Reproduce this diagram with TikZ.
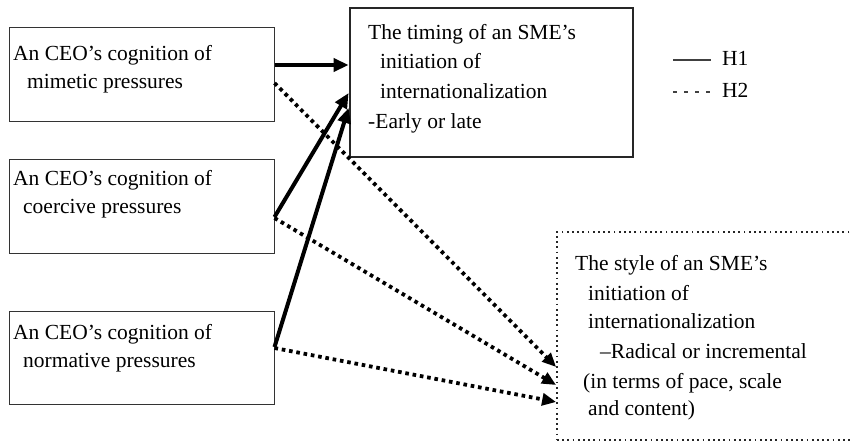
\documentclass[tikz,border=0pt]{standalone}
\usepackage{fontspec}
\setmainfont{Liberation Serif}
\usetikzlibrary{arrows.meta}
\begin{document}
\begin{tikzpicture}[x=1pt,y=-1pt,
  box/.style={draw=black!80, line width=1pt, inner sep=0pt, minimum width=265pt},
  txt/.style={font=\fontsize{21.5}{26}\selectfont, anchor=base west, inner sep=0pt, text=black},
  solidarr/.style={line width=4pt, -{Triangle[length=15pt,width=13pt]}},
  dotarr/.style={line width=3.8pt, dash pattern=on 3.6pt off 3.8pt, -{Triangle[length=14pt,width=12pt]}}
]
\useasboundingbox (0,0) rectangle (853,445);
\clip (0,0) rectangle (853,445);

% source boxes
\node[box, minimum height=94pt] (b1) at (141.5,74) {};
\node[box, minimum height=94pt] (b2) at (141.5,206) {};
\node[box, minimum height=93pt] (b3) at (141.5,357.5) {};

% timing box
\node[draw=black!85, line width=2.8pt, inner sep=0pt, minimum width=283pt, minimum height=149pt] (tb) at (491.5,82.5) {};

% style box (open beyond right edge)
\node[draw=black!85, line width=1.8pt, dash pattern=on 1.8pt off 3.4pt, inner sep=0pt, minimum width=323pt, minimum height=208pt] (sb) at (718.5,336) {};

% texts
\node[txt] (b1a) at (13,60) {An CEO’s cognition of};
\node[txt] (b1b) at (27,88) {mimetic pressures};
\node[txt] (b2a) at (13,185) {An CEO’s cognition of};
\node[txt] (b2b) at (23,213) {coercive pressures};
\node[txt] (b3a) at (13,339) {An CEO’s cognition of};
\node[txt] (b3b) at (23,367) {normative pressures};

\node[txt] (tba) at (368,39) {The timing of an SME’s};
\node[txt] (tbb) at (380,68) {initiation of};
\node[txt] (tbc) at (380,98) {internationalization};
\node[txt] (tbd) at (368,128) {-Early or late};

\node[txt] (sba) at (575,270) {The style of an SME’s};
\node[txt] (sbb) at (588,300) {initiation of};
\node[txt] (sbc) at (588,328) {internationalization};
\node[txt] (sbd) at (600,358) {–Radical or incremental};
\node[txt] (sbe) at (583,388) {(in terms of pace, scale};
\node[txt] (sbf) at (588,415) {and content)};

% legend
\coordinate (l1a) at (673,60);
\coordinate (l1b) at (711,60);
\coordinate (l2a) at (673,92);
\coordinate (l2b) at (711,92);
\draw[line width=1.2pt, black!75] (l1a) -- (l1b);
\draw[line width=1.2pt, black!75, dash pattern=on 4pt off 7pt] (l2a) -- (l2b);
\node[txt] (h1) at (722,65) {H1};
\node[txt] (h2) at (722,97) {H2};

% H1 arrows
\draw[solidarr] ([yshift=9pt]b1.east) -- ([yshift=17.5pt]tb.west);
\draw[solidarr] ([yshift=-11pt]b2.east) -- ([yshift=-10.5pt]tb.west);
\draw[solidarr] ([yshift=10.5pt]b3.east) -- ([yshift=-25.5pt]tb.west);

% H2 arrows
\draw[dotarr] ([yshift=-9pt]b1.east) -- ([yshift=-31pt]sb.west);
\draw[dotarr] ([yshift=-12pt]b2.east) -- ([yshift=-49pt]sb.west);
\draw[dotarr] ([yshift=9.5pt]b3.east) -- ([yshift=-66pt]sb.west);
\end{tikzpicture}
\end{document}
